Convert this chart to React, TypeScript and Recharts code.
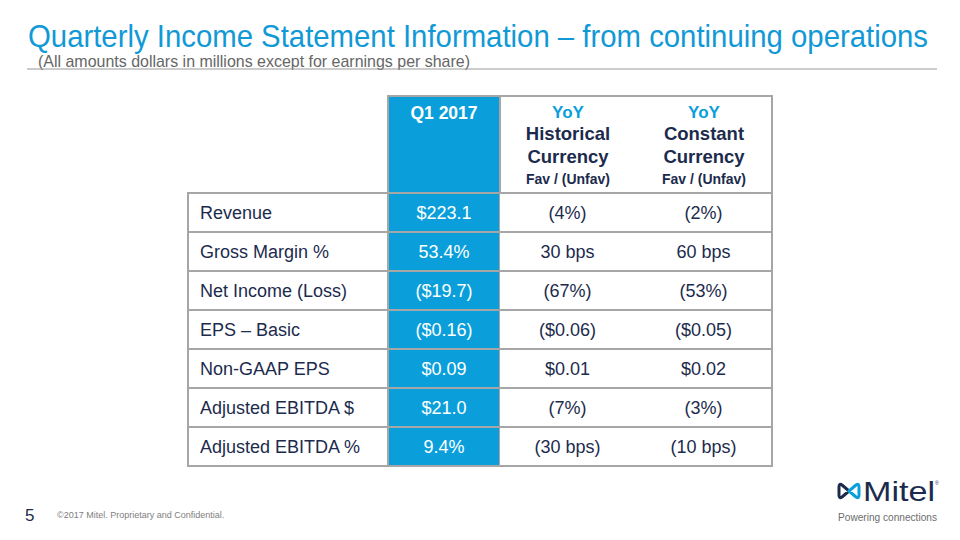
import { BarChart, Bar, XAxis, YAxis } from 'recharts';

const METRICS = [
  'Revenue',
  'Gross Margin %',
  'Net Income (Loss)',
  'EPS – Basic',
  'Non-GAAP EPS',
  'Adjusted EBITDA $',
  'Adjusted EBITDA %',
];
const Q1_2017 = ['$223.1', '53.4%', '($19.7)', '($0.16)', '$0.09', '$21.0', '9.4%'];
const YOY_HISTORICAL = ['(4%)', '30 bps', '(67%)', '($0.06)', '$0.01', '(7%)', '(30 bps)'];
const YOY_CONSTANT = ['(2%)', '60 bps', '(53%)', '($0.05)', '$0.02', '(3%)', '(10 bps)'];

const rows = METRICS.map((metric, i) => ({
  metric,
  q1: Q1_2017[i],
  hist: YOY_HISTORICAL[i],
  constant: YOY_CONSTANT[i],
}));

// layout
const BLUE = '#0a9fdb';
const NAVY = '#1c2b4d';
const GRID = '#a6a6a6';
const FONT = '"Liberation Sans", Arial, sans-serif';
const COL_W = { q1: 112, hist: 135, constant: 137 };
const LABEL_W = 200;
const CHART_W = 588;
const CHART_H = 277;
const ROW_H = 273 / METRICS.length;

const hLine = (x1: number, x2: number, y: number, key: string) => (
  <line key={key} x1={x1} x2={x2} y1={y} y2={y} stroke={GRID} strokeWidth={2} />
);
const vLine = (x: number, y1: number, y2: number, key: string) => (
  <line key={key} x1={x} x2={x} y1={y1} y2={y2} stroke={GRID} strokeWidth={2} />
);

const cellShape =
  (field: 'q1' | 'hist' | 'constant', opts: { fill: string; color: string; left?: boolean; right?: boolean }) =>
  (props: any) => {
    const { x, y, width, height, payload } = props;
    return (
      <g>
        <rect x={x} y={y} width={width} height={height} fill={opts.fill} />
        {hLine(x - 1, x + width + 1, y, 't')}
        {hLine(x - 1, x + width + 1, y + height, 'b')}
        {opts.left && vLine(x, y, y + height, 'l')}
        {opts.right && vLine(x + width, y - 1, y + height + 1, 'r')}
        <text
          x={x + width / 2}
          y={y + height / 2}
          dy="0.36em"
          textAnchor="middle"
          fill={opts.color}
          fontSize={18}
          fontFamily={FONT}
        >
          {payload[field]}
        </text>
      </g>
    );
  };

const LabelTick = (props: any) => {
  const { y, payload } = props;
  const top = y - ROW_H / 2;
  return (
    <g>
      {hLine(1, LABEL_W + 2, top, 't')}
      {hLine(1, LABEL_W + 2, top + ROW_H, 'b')}
      {vLine(2, top - 1, top + ROW_H + 1, 'l')}
      <text x={14} y={y} dy="0.36em" textAnchor="start" fill={NAVY} fontSize={18} fontFamily={FONT}>
        {payload.value}
      </text>
    </g>
  );
};

const HEADER_COLS = [
  { cx: 444, lines: [] as string[] },
  { cx: 568, lines: ['Historical', 'Currency'] },
  { cx: 704, lines: ['Constant', 'Currency'] },
];

export default function App() {
  return (
    <div style={{ position: 'absolute', left: 0, top: 0, width: 960, height: 540, background: '#fff', overflow: 'hidden' }}>
      <svg width={960} height={540} style={{ position: 'absolute', left: 0, top: 0 }}>
        <g transform="translate(28,47) scale(0.9,1)">
          <text x={0} y={0} fontSize={31} fill="#1199d6" fontFamily={FONT} textLength={1000} lengthAdjust="spacingAndGlyphs">
            Quarterly Income Statement Information – from continuing operations
          </text>
        </g>
        <g transform="translate(38,67) scale(0.9,1)">
          <text x={0} y={0} fontSize={16} fill="#666" fontFamily={FONT} textLength={480} lengthAdjust="spacingAndGlyphs">
            (All amounts dollars in millions except for earnings per share)
          </text>
        </g>
        <line x1={27} x2={937} y1={69} y2={69} stroke="#999" strokeWidth={1} />

        {/* header row */}
        <rect x={388} y={96} width={112} height={97} fill={BLUE} />
        {hLine(387, 773, 96, 'ht')}
        {vLine(388, 95, 194, 'hl')}
        {vLine(500, 95, 194, 'hm')}
        {vLine(772, 95, 194, 'hr')}
        <text x={HEADER_COLS[0].cx} y={119} textAnchor="middle" fontSize={17.5} fontWeight="bold" fill="#fff" fontFamily={FONT}>
          Q1 2017
        </text>
        {HEADER_COLS.slice(1).map((c) => (
          <g key={c.cx}>
            <text x={c.cx} y={118} textAnchor="middle" fontSize={17} fontWeight="bold" fill={BLUE} fontFamily={FONT}>
              YoY
            </text>
            <text x={c.cx} y={140} textAnchor="middle" fontSize={18.5} fontWeight="bold" fill={NAVY} fontFamily={FONT}>
              {c.lines[0]}
            </text>
            <text x={c.cx} y={163} textAnchor="middle" fontSize={18.5} fontWeight="bold" fill={NAVY} fontFamily={FONT}>
              {c.lines[1]}
            </text>
            <text x={c.cx} y={184} textAnchor="middle" fontSize={14} fontWeight="bold" fill={NAVY} fontFamily={FONT}>
              Fav / (Unfav)
            </text>
          </g>
        ))}

        {/* footer */}
        <text x={25} y={521} fontSize={17} fill={NAVY} fontFamily={FONT}>5</text>
        <text x={57} y={518} fontSize={9} fill="#808080" fontFamily={FONT}>
          ©2017 Mitel. Proprietary and Confidential.
        </text>
        <g fill="none" strokeWidth={3} strokeLinejoin="round">
          <path d="M849 491 L842 485 Q839 483 839 487 L839 495 Q839 499 842 497 Z" stroke={NAVY} />
          <path d="M849 491 L856 485 Q859 483 859 487 L859 495 Q859 499 856 497 Z" stroke={BLUE} />
        </g>
        <text x={863} y={501} fontSize={28} fill={NAVY} fontFamily={FONT} textLength={72} lengthAdjust="spacingAndGlyphs">
          Mitel
        </text>
        <text x={935} y={485} fontSize={5} fill={NAVY} fontFamily={FONT}>®</text>
        <text x={838} y={521} fontSize={11.5} fill="#6d6d6d" fontFamily={FONT} textLength={99} lengthAdjust="spacingAndGlyphs">
          Powering connections
        </text>
      </svg>

      <div style={{ position: 'absolute', left: 186, top: 191 }}>
        <BarChart
          width={CHART_W}
          height={CHART_H}
          data={rows}
          layout="vertical"
          barCategoryGap={0}
          barGap={0}
          margin={{ top: 2, right: 2, bottom: 2, left: 2 }}
        >
          <XAxis type="number" hide domain={[0, COL_W.q1 + COL_W.hist + COL_W.constant]} />
          <YAxis
            type="category"
            dataKey="metric"
            width={LABEL_W}
            interval={0}
            axisLine={false}
            tickLine={false}
            tick={<LabelTick />}
          />
          <Bar
            dataKey={() => COL_W.q1}
            stackId="row"
            isAnimationActive={false}
            shape={cellShape('q1', { fill: BLUE, color: '#fff', left: true, right: true })}
          />
          <Bar
            dataKey={() => COL_W.hist}
            stackId="row"
            isAnimationActive={false}
            shape={cellShape('hist', { fill: '#fff', color: NAVY })}
          />
          <Bar
            dataKey={() => COL_W.constant}
            stackId="row"
            isAnimationActive={false}
            shape={cellShape('constant', { fill: '#fff', color: NAVY, right: true })}
          />
        </BarChart>
      </div>
    </div>
  );
}
